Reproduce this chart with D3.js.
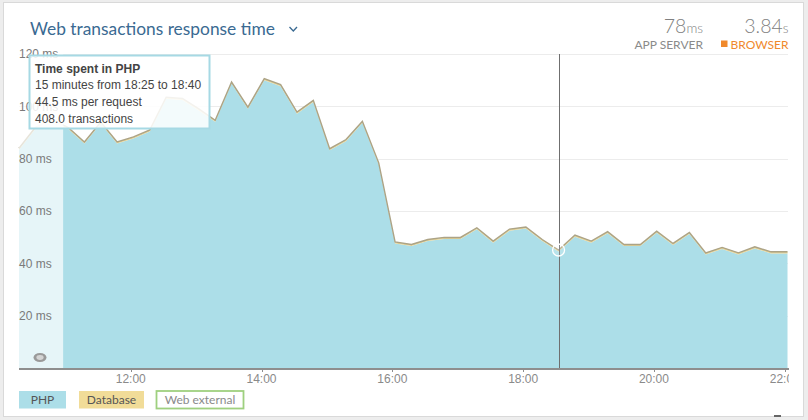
<!DOCTYPE html>
<html><head><meta charset="utf-8">
<script src="https://cdn.jsdelivr.net/npm/d3@7"></script>
<style>body{margin:0;background:#ededed;} svg{display:block}</style>
</head><body><svg id="c" width="808" height="420"></svg>
<script>
// ---- data ----
const intervalStarts = [
 "10:10","10:25","10:40","10:55","11:10","11:25","11:40","11:55",
 "12:10","12:25","12:40","12:55","13:10","13:25","13:40","13:55",
 "14:10","14:25","14:40","14:55","15:10","15:25","15:40","15:55",
 "16:10","16:25","16:40","16:55","17:10","17:25","17:40","17:55",
 "18:10","18:25","18:40","18:55","19:10","19:25","19:40","19:55",
 "20:10","20:25","20:40","20:55","21:10","21:25","21:40","21:55"];
const phpMs = [83.4,91.4,94.4,91.4,85.8,93.4,85.8,87.7,90.4,102.9,102.4,98.4,
 94.1,108.7,99.1,110,107.7,97.2,101.7,83.2,86.7,93.7,77.8,47.6,
 46.6,48.5,49.3,49.3,53,47.9,52.5,53.3,48.5,44.5,50.2,47.9,
 51.5,46.6,46.6,51.7,47,51.2,43.4,45.5,43.4,45.7,43.8,43.8];
const databaseMs = [0.6,0.6,0.6,0.6,0.6,0.6,0.6,0.6,0.6,0.6,0.6,0.6,
 0.6,0.6,0.6,0.6,0.6,0.6,0.6,0.6,0.6,0.6,0.6,0.6,
 0.6,0.6,0.6,0.6,0.6,0.6,0.6,0.6,0.6,0.6,0.6,0.6,
 0.6,0.6,0.6,0.6,0.6,0.6,0.6,0.6,0.6,0.6,0.6,0.6];
const yTicks = [20,40,60,80,100,120];
const xTicks = ["12:00","14:00","16:00","18:00","20:00","22:00"];
const fadedUntil = "10:58";
const hoverIndex = 33;
const tooltipTitle = "Time spent in PHP";
const tooltipLines = ["15 minutes from 18:25 to 18:40","44.5 ms per request","408.0 transactions"];
const legendItems = ["PHP","Database","Web external"];
const title = "Web transactions response time";
const appServer = {value:"78", unit:"ms", label:"APP SERVER"};
const browser = {value:"3.84", unit:"s", label:"BROWSER"};

// ---- chart ----
const svg = d3.select("#c");
const parse = d3.timeParse("%H:%M");
const mid = s => new Date(parse(s).getTime() + 7.5*60000);
const rows = intervalStarts.map((s,i)=>({t:mid(s), php:phpMs[i], db:databaseMs[i]}));

const L = 19, R = 787.5, T = 54, B = 368;
const x = d3.scaleTime().domain([rows[0].t, rows[rows.length-1].t]).range([L, R]);
const y = d3.scaleLinear().domain([0,120]).range([B, T]);

// card
svg.append("rect").attr("x",3.5).attr("y",2.5).attr("width",800).attr("height",414)
  .attr("fill","#fff").attr("stroke","#d9d9d9");
svg.append("rect").attr("x",774).attr("y",415).attr("width",7).attr("height",2).attr("fill","#666");

svg.append("clipPath").attr("id","clip").append("rect").attr("x",0).attr("y",0).attr("width",789).attr("height",420);
const g = svg.append("g").attr("clip-path","url(#clip)");

// grid
g.selectAll(".grid").data(yTicks).join("line")
  .attr("x1",L).attr("x2",788).attr("y1",d=>Math.round(y(d))+0.5).attr("y2",d=>Math.round(y(d))+0.5)
  .attr("stroke","#ececec");

// areas
const areaPhp = d3.area().x(d=>x(d.t)).y0(y(0)).y1(d=>y(d.php));
const areaDb = d3.area().x(d=>x(d.t)).y0(d=>y(d.php)).y1(d=>y(d.php+d.db));
const topLine = d3.line().x(d=>x(d.t)).y(d=>y(d.php+d.db));
g.append("path").datum(rows).attr("d",areaPhp).attr("fill","#acdee8");
g.append("path").datum(rows).attr("d",areaDb).attr("fill","#e2d195");
g.append("path").datum(rows).attr("d",topLine).attr("fill","none").attr("stroke","#aca386").attr("stroke-width",1.4);

// faded region
g.append("rect").attr("x",L).attr("y",T-2).attr("width",x(parse(fadedUntil))-L).attr("height",B-T+2)
  .attr("fill","#fff").attr("opacity",0.7);

// y labels
g.selectAll(".yl").data(yTicks).join("text")
  .attr("x",L).attr("y",d=>y(d)).attr("dy","0.35em")
  .attr("font-family","Liberation Sans, Arial, sans-serif").attr("font-size",12).attr("fill","#7a7a7a")
  .text(d=>d+" ms");

// x axis
g.append("line").attr("x1",L).attr("x2",789).attr("y1",B+1).attr("y2",B+1).attr("stroke","#8e8e8e").attr("stroke-width",2);
const xt = xTicks.map(parse);
g.selectAll(".xt").data(xt).join("line")
  .attr("x1",d=>Math.round(x(d))+0.5).attr("x2",d=>Math.round(x(d))+0.5).attr("y1",B).attr("y2",B+4)
  .attr("stroke","#8e8e8e");
g.selectAll(".xl").data(xt).join("text")
  .attr("x",d=>x(d)).attr("y",B+15).attr("text-anchor","middle")
  .attr("font-family","Liberation Sans, Arial, sans-serif").attr("font-size",12).attr("fill","#8a8a8a")
  .text(d3.timeFormat("%H:%M"));

// hover
const h = rows[hoverIndex];
g.append("line").attr("x1",Math.round(x(h.t))+0.5).attr("x2",Math.round(x(h.t))+0.5).attr("y1",T).attr("y2",B)
  .attr("stroke","#6f6f6f").attr("stroke-width",1);
g.append("circle").attr("cx",x(h.t)).attr("cy",y(h.php+h.db)).attr("r",6)
  .attr("fill","rgba(255,255,255,0.15)").attr("stroke","#fff").attr("stroke-width",1.3);

// icon
svg.append("ellipse").attr("cx",40).attr("cy",357.5).attr("rx",6.5).attr("ry",4.6).attr("fill","#9a9a9a");
svg.append("ellipse").attr("cx",40).attr("cy",357.5).attr("rx",3.6).attr("ry",2.4).attr("fill","#d4d4d4");

// tooltip
const tt = svg.append("g");
tt.append("rect").attr("x",29.5).attr("y",55.5).attr("width",180).attr("height",73)
  .attr("fill","rgba(255,255,255,0.86)").attr("stroke","#a6d9e4").attr("stroke-width",2);
tt.append("text").attr("x",35).attr("y",72.5).attr("font-family","Liberation Sans, Arial, sans-serif")
  .attr("font-size",12).attr("font-weight","bold").attr("fill","#444").text(tooltipTitle);
tt.selectAll(".tl").data(tooltipLines).join("text").attr("x",35).attr("y",(d,i)=>89.3+i*16.6)
  .attr("font-family","Liberation Sans, Arial, sans-serif").attr("font-size",12).attr("fill","#444").text(d=>d);

// title
const ti = svg.append("text").attr("x",30).attr("y",35).attr("font-family","Lato, sans-serif")
  .attr("font-size",19.5).attr("fill","#3a6a92").text(title);
const tw = ti.node().getComputedTextLength();
ti.attr("font-size",19.5*245/tw);
svg.append("path").attr("d","M289.5,27 L293.3,31 L297,27").attr("fill","none").attr("stroke","#3a6a92").attr("stroke-width",1.3);

// header stats
function stat(xr, s, color, withSq){
  const t = svg.append("text").attr("x",xr).attr("y",33.3).attr("text-anchor","end")
    .attr("font-family","Lato, sans-serif").attr("font-weight",300).attr("fill","#808080");
  t.append("tspan").attr("font-size",19.5).text(s.value);
  t.append("tspan").attr("font-size",13.5).text(s.unit);
  const l = svg.append("text").attr("x",xr).attr("y",48.7).attr("text-anchor","end")
    .attr("font-family","Lato, sans-serif").attr("font-size",12).attr("fill",color).text(s.label);
  if(withSq){
    const lw = l.node().getComputedTextLength();
    svg.append("rect").attr("x",xr-lw-9.5).attr("y",40.5).attr("width",6.5).attr("height",6.5).attr("fill",color);
  }
}
stat(703, appServer, "#8a8a8a", false);
stat(788.5, browser, "#f0892c", true);

// legend
const lg = [{x:19,w:47,fill:"#acdee8",stroke:"none",tc:"#555"},
            {x:79,w:65,fill:"#f1dc98",stroke:"none",tc:"#555"},
            {x:156.5,w:87,fill:"#fff",stroke:"#9fd07f",tc:"#8a8a8a"}];
legendItems.forEach((name,i)=>{
  const o = lg[i];
  svg.append("rect").attr("x",o.x).attr("y",391).attr("width",o.w).attr("height",17.5)
    .attr("fill",o.fill).attr("stroke",o.stroke).attr("stroke-width",1.8);
  svg.append("text").attr("x",o.x+o.w/2).attr("y",404).attr("text-anchor","middle")
    .attr("font-family","Lato, sans-serif").attr("font-size",12).attr("fill",o.tc).text(name);
});
</script></body></html>
